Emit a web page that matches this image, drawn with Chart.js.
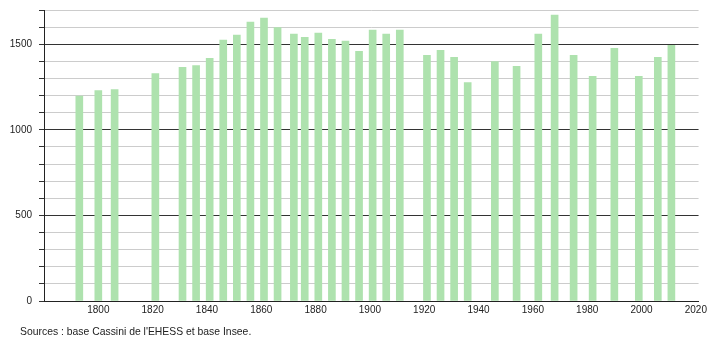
<!DOCTYPE html>
<html>
<head>
<meta charset="utf-8">
<script src="https://cdn.jsdelivr.net/npm/chart.js@4"></script>
<style>
  body { margin: 0; background: #fff; }
  #wrap { position: relative; width: 710px; height: 340px; }
  #source {
    position: absolute; left: 20px; top: 326px;
    font: 10.4px "Liberation Sans", Arial, sans-serif; color: #222;
  }
</style>
</head>
<body>
<div id="wrap">
  <canvas id="graph" width="710" height="340"></canvas>
  <div id="source">Sources : base Cassini de l'EHESS et base Insee.</div>
</div>
<script>
// années de recensement et population
const annees = [1793, 1800, 1806, 1821, 1831, 1836, 1841, 1846, 1851, 1856, 1861, 1866,
  1872, 1876, 1881, 1886, 1891, 1896, 1901, 1906, 1911, 1921, 1926, 1931, 1936,
  1946, 1954, 1962, 1968, 1975, 1982, 1990, 1999, 2006, 2011];
const population = [1197, 1229, 1235, 1329, 1365, 1376, 1418, 1524, 1553, 1629, 1653, 1598,
  1559, 1541, 1565, 1529, 1518, 1459, 1582, 1559, 1582, 1435, 1465, 1424, 1276,
  1398, 1371, 1559, 1671, 1435, 1312, 1476, 1312, 1424, 1494];
const ticksX = [1800, 1820, 1840, 1860, 1880, 1900, 1920, 1940, 1960, 1980, 2000, 2020];
const ticksY = [0, 500, 1000, 1500];

const police = { family: "'Liberation Sans', Arial, sans-serif", size: 10 };

const ctx = document.getElementById("graph").getContext("2d");
new Chart(ctx, {
  type: "bar",
  data: {
    datasets: [{
      data: annees.map((a, i) => ({ x: a, y: population[i] })),
      backgroundColor: "rgb(174,226,174)",
      barThickness: 7,
    }],
  },
  options: {
    responsive: false,
    animation: false,
    layout: { padding: { top: 10, right: 9, left: 0, bottom: 0 } },
    plugins: { legend: { display: false }, tooltip: { enabled: false } },
    scales: {
      x: {
        type: "linear",
        offset: false,
        min: 1780,
        max: 2021,
        afterBuildTicks: (s) => { s.ticks = ticksX.map((v) => ({ value: v })); },
        afterFit: (s) => { s.height = 39; },
        grid: { display: false, drawTicks: false, offset: false },
        border: { color: "#222", width: 1 },
        ticks: {
          font: police, color: "#222", padding: 3, maxRotation: 0, autoSkip: false,
          callback: (v) => String(v),
        },
      },
      y: {
        min: 0,
        max: 1700,
        afterFit: (s) => { s.width = 44; s.paddingTop = 0; s.paddingBottom = 0; },
        grid: {
          color: (c) => (c.tick && c.tick.value % 500 === 0 ? "#333" : "#ccc"),
          tickColor: "#333",
          tickLength: 5,
        },
        border: { color: "#222", width: 1 },
        ticks: {
          stepSize: 100,
          font: police,
          color: "#222",
          padding: 7,
          autoSkip: false,
          callback: (v) => (ticksY.includes(v) ? String(v) : ""),
        },
      },
    },
  },
});
</script>
</body>
</html>
